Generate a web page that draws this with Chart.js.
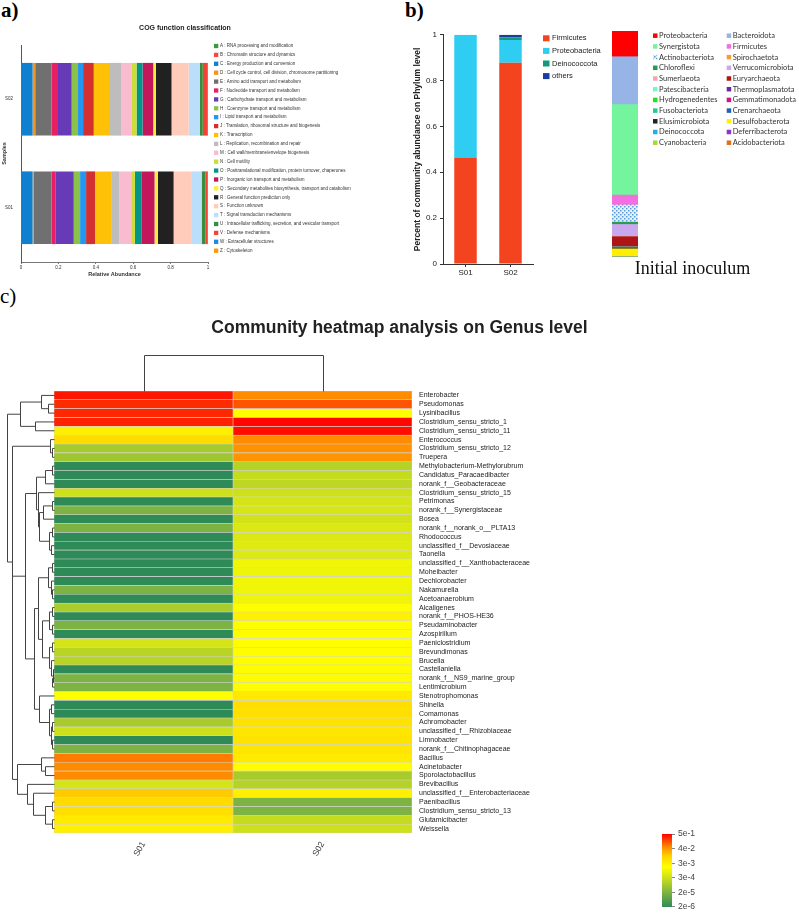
<!DOCTYPE html>
<html>
<head>
<meta charset="utf-8">
<title>COG / phylum / genus figure</title>
<script src="https://cdn.jsdelivr.net/npm/chart.js@4.4.1/dist/chart.umd.min.js"></script>
<style>
  html, body { margin: 0; padding: 0; background: #fff; }
  body { width: 799px; height: 915px; position: relative; overflow: hidden; }
  .panel-label { position: absolute; font-family: "Liberation Serif", "Times New Roman", serif; font-size: 21px; line-height: 1; font-weight: bold; color: #000; }
  .box { position: absolute; }
  .caption { position: absolute; text-align: center; white-space: nowrap; }
</style>
</head>
<body>
<div class="panel-label" style="left:1px; top:0px;">a)</div>
<div class="panel-label" style="left:405px; top:0px;">b)</div>
<div class="panel-label" style="left:0px; top:286px; font-weight:normal;">c)</div>

<div class="box" style="left:0; top:20px; width:370px; height:265px;"><canvas id="cogChart"></canvas></div>
<div class="box" style="left:400px; top:20px; width:206px; height:265px;"><canvas id="phylumChart"></canvas></div>
<div class="box" style="left:586px; top:20px; width:213px; height:265px;"><canvas id="inoculumChart"></canvas></div>
<div class="box" style="left:0; top:290px; width:799px; height:625px;"><canvas id="heatmapChart"></canvas></div>
<div class="box" style="left:640px; top:826px; width:80px; height:89px;"><canvas id="colorbarChart"></canvas></div>

<div class="caption" style="left:0; top:24px; width:370px; font:bold 7px/8px Arial, 'Liberation Sans', sans-serif; color:#222;">COG function classification</div>
<div class="caption" style="left:586px; top:258px; width:213px; font:18px/20px 'Liberation Serif', 'Times New Roman', serif; color:#111;">Initial inoculum</div>
<div class="caption" style="left:0; top:317px; width:799px; font:bold 17.5px/20px Arial, 'Liberation Sans', sans-serif; color:#222;">Community heatmap analysis on Genus level</div>

<script>
// ---- data ----
const samples = ['S01', 'S02'];

// a) COG function classification (relative abundance)
const cogCodes = ['A', 'B', 'C', 'D', 'E', 'F', 'G', 'H', 'I', 'J', 'K', 'L', 'M', 'N', 'O', 'P', 'Q', 'R', 'S', 'T', 'U', 'V', 'W', 'Z'];
const cogNames = [
    'RNA processing and modification',
    'Chromatin structure and dynamics',
    'Energy production and conversion',
    'Cell cycle control, cell division, chromosome partitioning',
    'Amino acid transport and metabolism',
    'Nucleotide transport and metabolism',
    'Carbohydrate transport and metabolism',
    'Coenzyme transport and metabolism',
    'Lipid transport and metabolism',
    'Translation, ribosomal structure and biogenesis',
    'Transcription',
    'Replication, recombination and repair',
    'Cell wall/membrane/envelope biogenesis',
    'Cell motility',
    'Posttranslational modification, protein turnover, chaperones',
    'Inorganic ion transport and metabolism',
    'Secondary metabolites biosynthesis, transport and catabolism',
    'General function prediction only',
    'Function unknown',
    'Signal transduction mechanisms',
    'Intracellular trafficking, secretion, and vesicular transport',
    'Defense mechanisms',
    'Extracellular structures',
    'Cytoskeleton'
];
const cogS01 = [0.0005, 0.0005, 0.061, 0.007, 0.094, 0.023, 0.096, 0.034, 0.032, 0.048, 0.086, 0.043, 0.064, 0.020, 0.037, 0.068, 0.018, 0.084, 0.098, 0.052, 0.021, 0.012, 0.0005, 0.0005];
const cogS02 = [0.0005, 0.0005, 0.061, 0.014, 0.087, 0.030, 0.078, 0.034, 0.027, 0.057, 0.087, 0.062, 0.055, 0.025, 0.032, 0.057, 0.014, 0.084, 0.092, 0.059, 0.016, 0.027, 0.0005, 0.0005];
const cogColors = ['#3c9a3c', '#f44a3c', '#0f7fcf', '#f7941d', '#707070', '#e91e63', '#673ab7', '#8bc34a', '#2196f3', '#d32f2f', '#ffc107', '#bdbdbd', '#f8bbd0', '#cddc39', '#009688', '#c2185b', '#ffeb3b', '#212121', '#ffccbc', '#bbdefb', '#388e3c', '#f44336', '#1e88e5', '#ff9800'];

// b) phylum level, S01 / S02
const firmicutes = [0.464, 0.878];
const proteobacteria = [0.536, 0.099];
const deinococcota = [0, 0.011];
const others = [0, 0.012];

// b) initial inoculum (top of bar first)
const inocPhyla = ['Proteobacteria', 'Bacteroidota', 'Synergistota', 'Firmicutes', 'Actinobacteriota', 'Spirochaetota',
    'Chloroflexi', 'Verrucomicrobiota', 'Sumerlaeota', 'Euryarchaeota', 'Patescibacteria', 'Thermoplasmatota',
    'Hydrogenedentes', 'Gemmatimonadota', 'Fusobacteriota', 'Crenarchaeota', 'Elusimicrobiota', 'Desulfobacterota',
    'Deinococcota', 'Deferribacterota', 'Cyanobacteria', 'Acidobacteriota'];
const inocValues = [0.111, 0.212, 0.400, 0.044, 0.075, 0.002, 0.009, 0.053, 0.001, 0.044, 0.001, 0.001,
    0.001, 0.001, 0.001, 0.001, 0.004, 0.035, 0.001, 0.001, 0.001, 0.001];
const inocColors = ['#ff0000', '#96b4e6', '#74f59d', '#f46ee0', null, '#ff9933',
    '#1fa04f', '#c9a8ef', '#f2a7ae', '#b01515', '#6dfbc8', '#6a2aa0',
    '#22e022', '#d01585', '#25c996', '#2460b0', '#222222', '#ffee00',
    '#25b0e0', '#8a35d0', '#a0dd30', '#e07020'];

// c) genus heatmap (relative abundance)
const genera = ['Enterobacter', 'Pseudomonas', 'Lysinibacillus', 'Clostridium_sensu_stricto_1', 'Clostridium_sensu_stricto_11',
    'Enterococcus', 'Clostridium_sensu_stricto_12', 'Truepera', 'Methylobacterium-Methylorubrum', 'Candidatus_Paracaedibacter',
    'norank_f__Geobacteraceae', 'Clostridium_sensu_stricto_15', 'Petrimonas', 'norank_f__Synergistaceae', 'Bosea',
    'norank_f__norank_o__PLTA13', 'Rhodococcus', 'unclassified_f__Devosiaceae', 'Taonella', 'unclassified_f__Xanthobacteraceae',
    'Moheibacter', 'Dechlorobacter', 'Nakamurella', 'Acetoanaerobium', 'Alcaligenes',
    'norank_f__PHOS-HE36', 'Pseudaminobacter', 'Azospirillum', 'Paeniclostridium', 'Brevundimonas',
    'Brucella', 'Castellaniella', 'norank_f__NS9_marine_group', 'Lentimicrobium', 'Stenotrophomonas',
    'Shinella', 'Comamonas', 'Achromobacter', 'unclassified_f__Rhizobiaceae', 'Limnobacter',
    'norank_f__Chitinophagaceae', 'Bacillus', 'Acinetobacter', 'Sporolactobacillus', 'Brevibacillus',
    'unclassified_f__Enterobacteriaceae', 'Paenibacillus', 'Clostridium_sensu_stricto_13', 'Glutamicibacter', 'Weissella'];
const abundS01 = [0.35, 0.25, 0.27, 0.3, 0.0035, 0.0075, 9e-5, 7e-5, 2e-6, 2e-6,
    2e-6, 2.9e-4, 2e-6, 2.4e-5, 2e-6, 2.4e-5, 2e-6, 2e-6, 2e-6, 2e-6,
    2e-6, 2e-6, 2.4e-5, 2e-6, 1e-4, 2e-6, 2.4e-5, 2e-6, 3.7e-4, 1.5e-4,
    1.5e-4, 2e-6, 2.4e-5, 2.4e-5, 1.9e-3, 2e-6, 2e-6, 9e-5, 2.9e-4, 2e-6,
    2.4e-5, 0.069, 0.053, 0.053, 3.7e-4, 1.35e-2, 7.8e-3, 6.5e-3, 4.2e-3, 3.5e-3];
const abundS02 = [0.053, 0.13, 1.9e-3, 0.45, 0.4, 0.053, 0.047, 0.045, 1.4e-4, 2.2e-4,
    1.8e-4, 2.9e-4, 3.7e-4, 3.9e-4, 3.4e-4, 4.8e-4, 4.8e-4, 5.4e-4, 5e-4, 1.1e-3,
    1e-3, 1.1e-3, 1e-3, 1.05e-3, 1.9e-3, 3.5e-3, 1.9e-3, 2e-3, 2e-3, 2e-3,
    2e-3, 2.1e-3, 2.1e-3, 2.2e-3, 4.5e-3, 7e-3, 6.5e-3, 5.7e-3, 5e-3, 5.7e-3,
    5e-3, 4.2e-3, 2e-3, 9e-5, 1.4e-4, 3.5e-3, 2.4e-5, 2.4e-5, 2.2e-4, 2.9e-4];
const colorMin = 2e-6;
const colorMax = 5e-1;

// clustering trees: [height, left, right], leaves are genus / sample indices
const rowTree = [0.87,
    [0.63, [0.24, 0, [0.11, 1, 2]], [0.35, 3, 4]],
    [0.78,
        [0.08, 5, [0.04, 6, 7]],
        [0.77,
            [0.54,
                [0.33, [0.17, [0.03, 8, 9], 10],
                    [0.3, 11, [0.27, [0.2, [0.04, 12, 13], 14], [0.1, [0.03, 15, 16], [0.05, 17, 18]]]]],
                [0.37,
                    [0.3, [0.12, [0.04, 19, 20], [0.06, 21, [0.03, 22, 23]]],
                        [0.22, [0.1, [0.03, 24, 25], [0.04, 26, 27]], [0.09, [0.03, 28, 29], [0.05, 30, [0.02, 31, [0.03, 32, 33]]]]]],
                    [0.27, 34, [0.1, [0.05, 35, 36], [0.06, [0.03, 37, 38], [0.04, 39, 40]]]]]],
            [0.68, [0.24, 41, [0.17, 42, 43]], [0.5, 44, [0.39, 45, [0.17, [0.03, 46, 47], [0.04, 48, 49]]]]]]]];
const colTree = [1, 0, 1];

// ---- colour helpers ----
const heatStops = [
    { t: 0.0, color: '#2e8b57' },
    { t: 0.2, color: '#7cb342' },
    { t: 0.4, color: '#cde01a' },
    { t: 0.55, color: '#ffff00' },
    { t: 0.7, color: '#ffd000' },
    { t: 0.82, color: '#ff8c00' },
    { t: 1.0, color: '#ff0000' }
];

function hexToRgb(hex) {
    const n = parseInt(hex.slice(1), 16);
    return [(n >> 16) & 255, (n >> 8) & 255, n & 255];
}

function heatColor(v) {
    const lo = Math.log10(colorMin), hi = Math.log10(colorMax);
    let t = (Math.log10(v) - lo) / (hi - lo);
    t = Math.max(0, Math.min(1, t));
    for (let i = 1; i < heatStops.length; i++) {
        if (t <= heatStops[i].t) {
            const a = heatStops[i - 1], b = heatStops[i];
            const f = (t - a.t) / (b.t - a.t);
            const ca = hexToRgb(a.color), cb = hexToRgb(b.color);
            const c = ca.map((x, k) => Math.round(x + (cb[k] - x) * f));
            return `rgb(${c[0]}, ${c[1]}, ${c[2]})`;
        }
    }
    return heatStops[heatStops.length - 1].color;
}

// dotted fill used for Actinobacteriota
function makeDotPattern() {
    const p = document.createElement('canvas');
    p.width = 4; p.height = 4;
    const c = p.getContext('2d');
    c.fillStyle = '#e4f0fb';
    c.fillRect(0, 0, 4, 4);
    c.fillStyle = '#5a9bd5';
    c.fillRect(0, 0, 1.5, 1.5);
    c.fillRect(2, 2, 1.5, 1.5);
    return c.createPattern(p, 'repeat');
}

// 1 instead of 1.0 on the axes
const plainNumber = v => String(Number(v.toFixed(2)));

// ---- plugins ----
// simple grid legend drawn on the chart canvas
const gridLegend = {
    id: 'gridLegend',
    afterDraw(chart, args, opts) {
        if (!opts || !opts.display) return;
        const ctx = chart.ctx;
        ctx.save();
        ctx.font = opts.font;
        ctx.textBaseline = 'middle';
        ctx.textAlign = 'left';
        chart.data.datasets.forEach((ds, i) => {
            const col = opts.byRow ? i % opts.cols : Math.floor(i / opts.rows);
            const row = opts.byRow ? Math.floor(i / opts.cols) : i % opts.rows;
            const x = opts.x + col * (opts.colWidth || 0);
            const y = opts.y + row * opts.rowHeight;
            ctx.fillStyle = ds.backgroundColor;
            ctx.fillRect(x, y - opts.boxH / 2, opts.boxW, opts.boxH);
            ctx.fillStyle = opts.color;
            ctx.fillText(ds.label, x + opts.boxW + opts.gap, y);
        });
        ctx.restore();
    }
};

// row / column dendrograms around the heatmap
const dendrogram = {
    id: 'dendrogram',
    afterDraw(chart, args, opts) {
        const { ctx, chartArea } = chart;
        const yScale = chart.scales.y;
        const xScale = chart.scales.x;
        ctx.save();
        ctx.strokeStyle = opts.color;
        ctx.lineWidth = 1;

        const rowX = h => Math.round(chartArea.left - h * opts.rowDepth) + 0.5;
        const walkRows = node => {
            if (typeof node === 'number') return { pos: yScale.getPixelForValue(node), h: 0 };
            const [h, a, b] = node;
            const A = walkRows(a), B = walkRows(b);
            const x = rowX(h);
            ctx.beginPath();
            ctx.moveTo(rowX(A.h), A.pos);
            ctx.lineTo(x, A.pos);
            ctx.lineTo(x, B.pos);
            ctx.lineTo(rowX(B.h), B.pos);
            ctx.stroke();
            return { pos: (A.pos + B.pos) / 2, h };
        };
        walkRows(opts.rowTree);

        const colY = h => Math.round(chartArea.top - h * opts.colDepth) + 0.5;
        const walkCols = node => {
            if (typeof node === 'number') return { pos: Math.round(xScale.getPixelForValue(node + 0.5)) + 0.5, h: 0 };
            const [h, a, b] = node;
            const A = walkCols(a), B = walkCols(b);
            const y = colY(h);
            ctx.beginPath();
            ctx.moveTo(A.pos, colY(A.h));
            ctx.lineTo(A.pos, y);
            ctx.lineTo(B.pos, y);
            ctx.lineTo(B.pos, colY(B.h));
            ctx.stroke();
            return { pos: (A.pos + B.pos) / 2, h };
        };
        walkCols(opts.colTree);
        ctx.restore();
    }
};

// ---- defaults ----
Chart.defaults.font.family = 'Arial, "Liberation Sans", sans-serif';
Chart.defaults.color = '#333';
Chart.defaults.animation = false;
Chart.defaults.responsive = true;
Chart.defaults.maintainAspectRatio = false;
Chart.defaults.plugins.legend.display = false;
Chart.defaults.plugins.tooltip.enabled = false;

// ---- a) COG function classification ----
new Chart(document.getElementById('cogChart'), {
    type: 'bar',
    data: {
        labels: samples,
        datasets: cogCodes.map((code, i) => ({
            label: code + ' : ' + cogNames[i],
            data: [cogS01[i], cogS02[i]],
            backgroundColor: cogColors[i],
            barPercentage: 0.67,
            categoryPercentage: 1
        }))
    },
    options: {
        indexAxis: 'y',
        layout: { padding: { left: 0, right: 162, top: 25, bottom: 0 } },
        scales: {
            x: {
                stacked: true, min: 0, max: 1,
                afterFit(s) { s.height = 23; },
                ticks: { stepSize: 0.2, font: { size: 4.5 }, padding: 1, color: '#333', callback: plainNumber },
                grid: { drawOnChartArea: false, drawTicks: true, tickLength: 2, color: '#777' },
                border: { color: '#777' },
                title: { display: true, text: 'Relative Abundance', font: { size: 5.5, weight: 'bold' }, color: '#333', padding: { top: 0, bottom: 7.7 } }
            },
            y: {
                stacked: true, reverse: true,
                afterFit(s) { s.width = 21; },
                ticks: { font: { size: 4.5 }, padding: 8, color: '#333' },
                grid: { display: false, drawTicks: false },
                border: { display: true, color: '#555' },
                title: { display: true, text: 'Samples', font: { size: 5.5, weight: 'bold' }, color: '#333', padding: { top: 1.2, bottom: 0 } }
            }
        },
        plugins: {
            gridLegend: { display: true, x: 214, y: 26, rows: 24, cols: 1, rowHeight: 8.9, boxW: 4.3, boxH: 4.3, gap: 1.6, font: '4.5px Arial', color: '#333' }
        }
    },
    plugins: [gridLegend]
});

// ---- b) phylum level ----
new Chart(document.getElementById('phylumChart'), {
    type: 'bar',
    data: {
        labels: samples,
        datasets: [
            { label: 'Firmicutes', data: firmicutes, backgroundColor: '#f4431f' },
            { label: 'Proteobacteria', data: proteobacteria, backgroundColor: '#2fcdf2' },
            { label: 'Deinococcota', data: deinococcota, backgroundColor: '#129a7a' },
            { label: 'others', data: others, backgroundColor: '#1a3ea0' }
        ]
    },
    options: {
        layout: { padding: { top: 14.7, right: 73, left: 0, bottom: 0 } },
        datasets: { bar: { barPercentage: 0.5, categoryPercentage: 1 } },
        scales: {
            x: {
                stacked: true,
                afterFit(s) { s.height = 21; },
                grid: { offset: false, drawOnChartArea: false, tickLength: 3, color: '#333' },
                border: { color: '#333' },
                ticks: { font: { size: 8 }, padding: 1, color: '#222' }
            },
            y: {
                stacked: true, min: 0, max: 1,
                afterFit(s) { s.width = 43; },
                ticks: { stepSize: 0.2, font: { size: 8 }, padding: 3, color: '#222', callback: plainNumber },
                grid: { drawOnChartArea: false, tickLength: 3, color: '#333' },
                border: { color: '#333' },
                title: { display: true, text: 'Percent of community abundance on Phylum level', font: { size: 8.5, weight: 'bold' }, color: '#222', padding: { top: 12.9, bottom: 0 } }
            }
        },
        plugins: {
            gridLegend: { display: true, x: 143, y: 18.3, rows: 4, cols: 1, rowHeight: 12.6, boxW: 6.5, boxH: 6, gap: 2.5, font: '7.5px Arial', color: '#222' }
        }
    },
    plugins: [gridLegend]
});

// ---- b) initial inoculum ----
const dotPattern = makeDotPattern();
new Chart(document.getElementById('inoculumChart'), {
    type: 'bar',
    data: {
        labels: ['Initial inoculum'],
        datasets: inocPhyla.map((p, i) => ({
            label: p,
            data: [inocValues[i]],
            backgroundColor: inocColors[i] || dotPattern
        }))
    },
    options: {
        layout: { padding: { left: 26, right: 161, top: 11, bottom: 28 } },
        datasets: { bar: { barPercentage: 1, categoryPercentage: 1 } },
        scales: {
            x: { stacked: true, display: false },
            y: { stacked: true, display: false, reverse: true, min: 0, max: 1 }
        },
        plugins: {
            gridLegend: { display: true, x: 67, y: 15.7, cols: 2, byRow: true, colWidth: 73.7, rowHeight: 10.7, boxW: 4.5, boxH: 4.5, gap: 1.5, font: '7.5px Lato', color: '#333' }
        }
    },
    plugins: [gridLegend]
});

// ---- c) genus heatmap ----
new Chart(document.getElementById('heatmapChart'), {
    type: 'bar',
    data: {
        labels: genera,
        datasets: [
            { label: 'S01', data: genera.map(() => [0, 1]), backgroundColor: abundS01.map(heatColor) },
            { label: 'S02', data: genera.map(() => [1, 2]), backgroundColor: abundS02.map(heatColor) }
        ]
    },
    options: {
        indexAxis: 'y',
        layout: { padding: { left: 54, right: 227, top: 101, bottom: 0 } },
        datasets: {
            bar: { barPercentage: 1, categoryPercentage: 1, grouped: false, borderColor: '#d2d2d2', borderWidth: 0.6, borderSkipped: false }
        },
        scales: {
            x: {
                type: 'linear', min: 0, max: 2,
                afterBuildTicks(s) { s.ticks = samples.map((_, i) => ({ value: i + 0.5 })); },
                afterFit(s) { s.height = 82; },
                ticks: { callback: (v, i) => samples[i], minRotation: 60, maxRotation: 60, font: { size: 8.5 }, padding: 7, color: '#333' },
                grid: { display: false, drawTicks: false },
                border: { display: false }
            },
            y: {
                position: 'right',
                afterFit(s) { s.width = 160; },
                ticks: { autoSkip: false, font: { size: 7 }, padding: 7, color: '#222' },
                grid: { display: false, drawTicks: false },
                border: { display: false }
            }
        },
        plugins: {
            dendrogram: { rowTree: rowTree, colTree: colTree, rowDepth: 54, colDepth: 36, color: '#444' }
        }
    },
    plugins: [dendrogram]
});

// ---- c) colour key ----
const logMin = Math.log10(colorMin);
const logMax = Math.log10(colorMax);
new Chart(document.getElementById('colorbarChart'), {
    type: 'bar',
    data: {
        labels: [''],
        datasets: [{
            data: [[logMin, logMax]],
            barPercentage: 1,
            categoryPercentage: 1,
            backgroundColor(c) {
                const area = c.chart.chartArea;
                if (!area) return null;
                const g = c.chart.ctx.createLinearGradient(0, area.bottom, 0, area.top);
                heatStops.forEach(s => g.addColorStop(s.t, s.color));
                return g;
            }
        }]
    },
    options: {
        layout: { padding: { left: 22, top: 7, bottom: 4, right: 18 } },
        scales: {
            x: { display: false },
            y: {
                position: 'right', min: logMin, max: logMax,
                afterBuildTicks(s) {
                    const n = 5;
                    s.ticks = Array.from({ length: n + 1 }, (_, i) => ({ value: logMin + (logMax - logMin) * i / n }));
                },
                afterFit(s) { s.width = 30; },
                ticks: { callback: v => Math.pow(10, v).toExponential(0), font: { size: 8.5 }, padding: 3, color: '#444' },
                grid: { drawOnChartArea: false, tickLength: 3, color: '#888' },
                border: { display: false }
            }
        }
    }
});
</script>
</body>
</html>
